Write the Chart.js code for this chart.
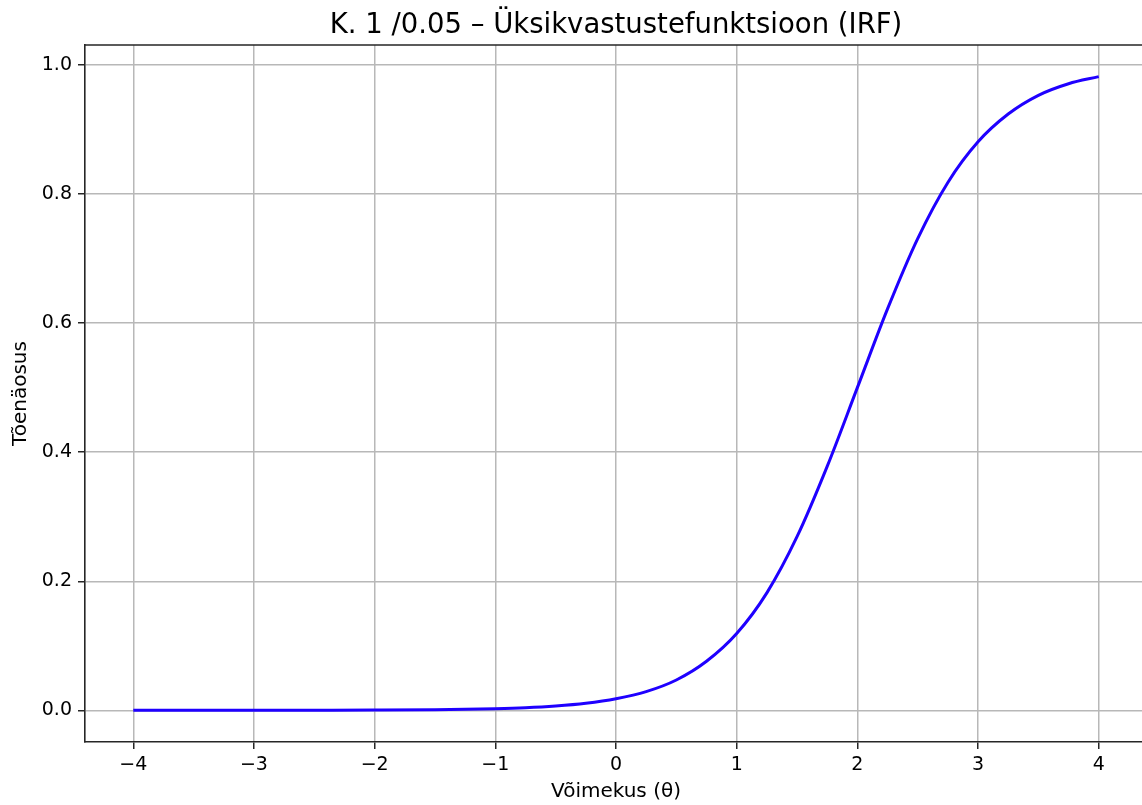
<!DOCTYPE html>
<html lang="et">
<head>
<meta charset="utf-8">
<script src="https://cdn.jsdelivr.net/npm/chart.js@4.4.1/dist/chart.umd.min.js"></script>
<style>
    html, body {
        margin: 0;
        padding: 0;
        background: #ffffff;
        overflow: hidden;
    }

    #wrap {
        width: 1150px;
        height: 805px;
    }
</style>
</head>
<body>

<div id="wrap">
    <canvas id="irfChart"></canvas>
</div>

<script>

    // theta values and read-off probabilities
    var thetaValues = [-4, -3.5, -3, -2.5, -2, -1.5, -1, -0.75, -0.5, -0.25, 0, 0.25, 0.5, 0.75,
        1, 1.25, 1.5, 1.75, 2, 2.25, 2.5, 2.75, 3, 3.25, 3.5, 3.75, 4];
    var probValues = [0.000, 0.000, 0.000, 0.0001, 0.0003, 0.0009, 0.0025, 0.004, 0.0067, 0.011, 0.018, 0.029, 0.047, 0.076,
        0.119, 0.182, 0.269, 0.378, 0.500, 0.622, 0.731, 0.818, 0.881, 0.924, 0.953, 0.971, 0.982];

    var xTicks = [-4, -3, -2, -1, 0, 1, 2, 3, 4];
    var yTicks = [0.0, 0.2, 0.4, 0.6, 0.8, 1.0];

    var titleText = 'K. 1 /0.05 – Üksikvastustefunktsioon (IRF)';
    var xTitle = 'Võimekus (θ)';
    var yTitle = 'Tõenäosus';

    var fontFamily = '"DejaVu Sans", sans-serif';
    var gridColor = '#b8b8b8';
    var spineColor = '#262626';

    var points = [];
    for (var i = 0; i < thetaValues.length; i++) {
        points.push({ x: thetaValues[i], y: probValues[i] });
    }

    // top and right spine (matplotlib style box), right side falls off the page
    var frameBox = {
        id: 'frameBox',
        afterDatasetsDraw: function (chart) {
            var a = chart.chartArea;
            var ctx = chart.ctx;
            ctx.save();
            ctx.strokeStyle = spineColor;
            ctx.lineWidth = 1.6;
            ctx.beginPath();
            ctx.moveTo(a.left, a.top);
            ctx.lineTo(a.right, a.top);
            ctx.lineTo(a.right, a.bottom);
            ctx.stroke();
            ctx.restore();
        }
    };

    const config = {
        type: 'line',
        data: {
            datasets: [{
                label: 'IRF',
                data: points,
                borderColor: '#1f00ff',
                borderWidth: 3,
                pointRadius: 0,
                fill: false,
                cubicInterpolationMode: 'monotone'
            }]
        },
        options: {
            responsive: true,
            maintainAspectRatio: false,
            animation: false,
            layout: {
                padding: { left: 0, right: 3, top: 0, bottom: 0 }
            },
            plugins: {
                legend: { display: false },
                tooltip: { enabled: false },
                title: {
                    display: true,
                    text: titleText,
                    fullSize: false,
                    color: '#000000',
                    font: { family: fontFamily, size: 27.5, weight: 'normal' },
                    padding: { top: 9, bottom: 3 }
                }
            },
            scales: {
                x: {
                    type: 'linear',
                    min: -4.4,
                    max: 4.4,
                    afterBuildTicks: function (scale) {
                        scale.ticks = xTicks.map(function (v) { return { value: v }; });
                    },
                    afterFit: function (scale) {
                        scale.height = 63;
                    },
                    ticks: {
                        color: '#000000',
                        font: { family: fontFamily, size: 19 },
                        padding: 5,
                        maxRotation: 0,
                        callback: function (v) {
                            return v < 0 ? '\u2212' + Math.abs(v) : String(v);
                        }
                    },
                    grid: {
                        color: gridColor,
                        lineWidth: 1.5,
                        tickColor: spineColor,
                        tickLength: 7
                    },
                    border: { display: true, color: spineColor, width: 1.6 },
                    title: {
                        display: true,
                        text: xTitle,
                        color: '#000000',
                        font: { family: fontFamily, size: 20 },
                        padding: { top: 0, bottom: 1 }
                    }
                },
                y: {
                    type: 'linear',
                    min: -0.0491,
                    max: 1.031,
                    afterBuildTicks: function (scale) {
                        scale.ticks = yTicks.map(function (v) { return { value: v }; });
                    },
                    afterFit: function (scale) {
                        scale.width = 85;
                    },
                    ticks: {
                        color: '#000000',
                        font: { family: fontFamily, size: 19 },
                        padding: 6,
                        callback: function (v) {
                            return v.toFixed(1);
                        }
                    },
                    grid: {
                        color: gridColor,
                        lineWidth: 1.5,
                        tickColor: spineColor,
                        tickLength: 7
                    },
                    border: { display: true, color: spineColor, width: 1.6 },
                    title: {
                        display: true,
                        text: yTitle,
                        color: '#000000',
                        font: { family: fontFamily, size: 20 },
                        padding: { top: 9, bottom: 0 }
                    }
                }
            }
        },
        plugins: [frameBox]
    };

    const ctx = document.getElementById('irfChart').getContext('2d');
    const irfChart = new Chart(ctx, config);

</script>
</body>
</html>
